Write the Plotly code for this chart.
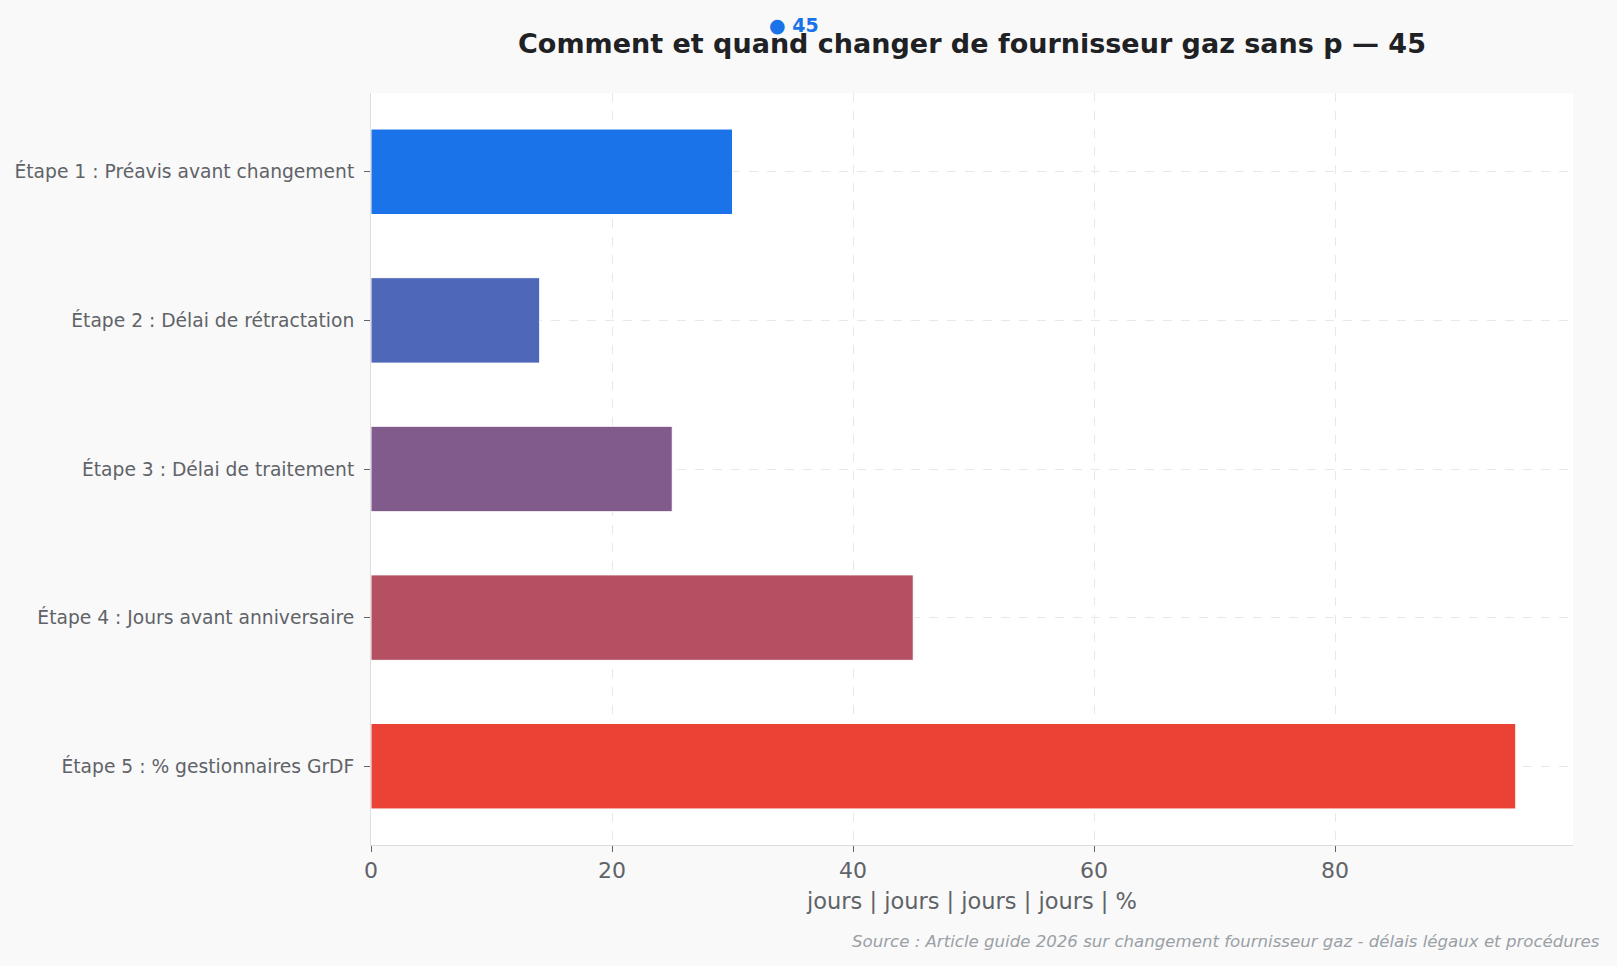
import plotly.graph_objects as go

categories = [
    "Étape 1 : Préavis avant changement",
    "Étape 2 : Délai de rétractation",
    "Étape 3 : Délai de traitement",
    "Étape 4 : Jours avant anniversaire",
    "Étape 5 : % gestionnaires GrDF",
]
values = [30, 14, 25, 45, 95]
colors = ["#1a73e8", "#4e67b8", "#805b8b", "#b55063", "#ea4335"]
x_title = "jours | jours | jours | jours | %"
title = "Comment et quand changer de fournisseur gaz sans p — 45"
source = "Source : Article guide 2026 sur changement fournisseur gaz - délais légaux et procédures"
highlight = "● 45"

FONT = "DejaVu Sans, Verdana, sans-serif"

fig = go.Figure(
    go.Bar(
        x=values,
        y=categories,
        orientation="h",
        marker=dict(color=colors, line=dict(color="white", width=1)),
        hoverinfo="x+y",
    )
)

fig.update_layout(
    width=1617,
    height=966,
    paper_bgcolor="#f9f9f9",
    plot_bgcolor="#ffffff",
    margin=dict(l=371, r=44, t=93, b=121),
    bargap=0.425,
    showlegend=False,
    font=dict(family=FONT, color="#5f6368"),
    title=dict(
        text="<b>" + title + "</b>",
        x=0.5,
        xref="paper",
        xanchor="center",
        y=1 - 44 / 966,
        yanchor="middle",
        font=dict(family=FONT, size=27, color="#202124"),
    ),
    xaxis=dict(
        range=[0, 99.75],
        tick0=0,
        dtick=20,
        showgrid=True,
        gridcolor="#e8e8e8",
        griddash="dash",
        gridwidth=1,
        zeroline=False,
        showline=True,
        linecolor="#dddddd",
        linewidth=1,
        ticks="outside",
        ticklen=6,
        tickcolor="#5f6368",
        tickfont=dict(size=22, color="#5f6368"),
        title=dict(text=x_title, font=dict(size=22.5, color="#5f6368"), standoff=10),
    ),
    yaxis=dict(
        categoryorder="array",
        categoryarray=categories,
        range=[4.53, -0.53],
        showgrid=True,
        gridcolor="#e8e8e8",
        griddash="dash",
        gridwidth=1,
        zeroline=False,
        showline=True,
        linecolor="#dddddd",
        linewidth=1,
        ticks="outside",
        ticklen=6,
        tickcolor="#5f6368",
        ticklabelstandoff=6,
        tickfont=dict(size=18.7, color="#5f6368"),
    ),
    annotations=[
        dict(
            text="<b>" + highlight + "</b>",
            xref="paper",
            yref="paper",
            x=(794 - 371) / 1202,
            y=1 + (93 - 25) / 752,
            xanchor="center",
            yanchor="middle",
            showarrow=False,
            font=dict(family=FONT, size=19, color="#1a73e8"),
        ),
        dict(
            text="<i>" + source + "</i>",
            xref="paper",
            yref="paper",
            x=1 + (1602 - 1573) / 1202,
            y=-(941 - 845) / 752,
            xanchor="right",
            yanchor="middle",
            showarrow=False,
            font=dict(family=FONT, size=16.6, color="#9aa0a6"),
        ),
    ],
)

fig.write_html("out.html")
